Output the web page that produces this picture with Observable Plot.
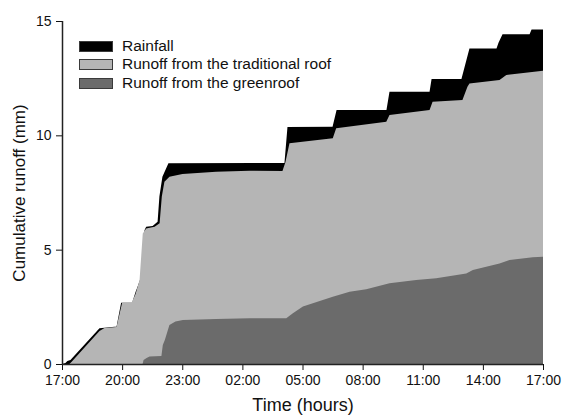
<!DOCTYPE html>
<html><head><meta charset="utf-8">
<script src="https://cdn.jsdelivr.net/npm/d3@7"></script>
<script src="https://cdn.jsdelivr.net/npm/@observablehq/plot@0.6"></script>
<style>
body{margin:0;background:#fff;font-family:"Liberation Sans",Arial,sans-serif;}
#wrap{position:relative;width:574px;height:419px;}
#legend{position:absolute;left:79px;top:41px;}
.row{position:absolute;left:0;height:18px;white-space:nowrap;font-size:15.5px;color:#111;}
.sw{position:absolute;left:0;top:0;width:32px;height:9px;border:1px solid #3a3a3a;}
.lab{position:absolute;left:43px;top:-3px;line-height:16px;}
g[aria-label="x-axis label"] text{font-size:18px;}
g[aria-label="y-axis label"] text{font-size:17px;}
</style></head><body><div id="wrap"></div>
<script>
// Time in hours since 17:00
const rainHours = [0,0.17,0.27,0.42,1.87,2.62,2.72,2.95,3.50,3.67,3.77,3.95,4.12,4.20,4.52,4.77,4.86,5.01,5.31,11.10,11.25,13.50,13.70,16.19,16.34,18.34,18.44,19.93,20.33,21.68,21.78,21.98,23.33,23.43,24];
const rainValues = [0,0.04,0.13,0.17,1.56,1.63,1.63,2.68,2.68,3.15,3.38,3.82,5.86,6.00,6.03,6.22,7.32,8.19,8.78,8.79,10.36,10.38,11.11,11.11,11.91,11.91,12.46,12.46,13.80,13.80,14.05,14.42,14.42,14.63,14.63];

const tradHours = [0,0.37,0.47,1.87,2.12,2.72,3.00,3.47,3.67,3.87,4.03,4.20,4.62,4.87,4.98,5.11,5.36,6.01,7.69,9.36,11.00,11.15,11.35,13.51,13.68,16.18,16.34,18.34,18.49,19.98,20.23,20.33,21.83,22.17,24];
const tradValues = [0,0,0.09,1.44,1.57,1.62,2.68,2.68,3.06,3.67,5.71,5.93,6.00,6.15,7.32,7.97,8.19,8.31,8.41,8.45,8.44,8.83,9.65,9.87,10.31,10.59,10.89,11.11,11.47,11.54,12.12,12.27,12.42,12.64,12.82];

const greenHours = [4.02,4.07,4.22,4.37,4.96,5.03,5.13,5.36,5.66,6.03,7.69,9.36,11.19,11.52,12.02,13.51,14.35,15.18,16.34,17.67,18.67,20.17,20.50,21.83,22.33,23.49,24];
const greenValues = [0,0.17,0.26,0.33,0.35,0.83,1.05,1.71,1.86,1.92,1.97,2.00,2.00,2.22,2.51,2.94,3.16,3.27,3.53,3.67,3.75,3.96,4.11,4.40,4.55,4.67,4.69];

const tickHours = [0,3,6,9,12,15,18,21,24];
const tickLabels = ["17:00","20:00","23:00","02:00","05:00","08:00","11:00","14:00","17:00"];
const yTicks = [0,5,10,15];

const seriesNames = ["Rainfall","Runoff from the traditional roof","Runoff from the greenroof"];
const seriesColors = ["#000000","#b5b5b5","#6b6b6b"];

const toRows = (hs, vs) => hs.map((h, i) => ({h, v: vs[i]}));
const rain = toRows(rainHours, rainValues);
const trad = toRows(tradHours, tradValues);
const green = toRows(greenHours, greenValues);

const plot = Plot.plot({
  width: 574, height: 419,
  marginLeft: 62, marginRight: 31, marginTop: 21, marginBottom: 55,
  style: {fontFamily: "'Liberation Sans', Arial, sans-serif", fontSize: "14px", color: "#111", background: "#fff"},
  x: {domain: [0, 24], ticks: tickHours, tickFormat: d => tickLabels[tickHours.indexOf(d)], tickSize: 6, tickPadding: 5,
      label: "Time (hours)", labelAnchor: "center", labelArrow: "none", labelOffset: 46},
  y: {domain: [0, 15], ticks: yTicks, tickSize: 6, tickPadding: 5,
      label: "Cumulative runoff (mm)", labelAnchor: "center", labelArrow: "none", labelOffset: 50},
  marks: [
    Plot.areaY(rain, {x: "h", y: "v", fill: seriesColors[0]}),
    Plot.areaY(trad, {x: "h", y: "v", fill: seriesColors[1]}),
    Plot.areaY(green, {x: "h", y: "v", fill: seriesColors[2]}),
    Plot.ruleX([0], {stroke: "#222", strokeWidth: 1.5}),
    Plot.ruleY([0], {stroke: "#222", strokeWidth: 1.5})
  ]
});
const wrap = document.getElementById("wrap");
wrap.appendChild(plot);

const legend = document.createElement("div");
legend.id = "legend";
seriesNames.forEach((name, i) => {
  const row = document.createElement("div");
  row.className = "row";
  row.style.top = (i * 18.3) + "px";
  const sw = document.createElement("div");
  sw.className = "sw";
  sw.style.background = seriesColors[i];
  const lab = document.createElement("div");
  lab.className = "lab";
  lab.textContent = name;
  row.appendChild(sw); row.appendChild(lab);
  legend.appendChild(row);
});
wrap.appendChild(legend);
</script>
</body></html>
